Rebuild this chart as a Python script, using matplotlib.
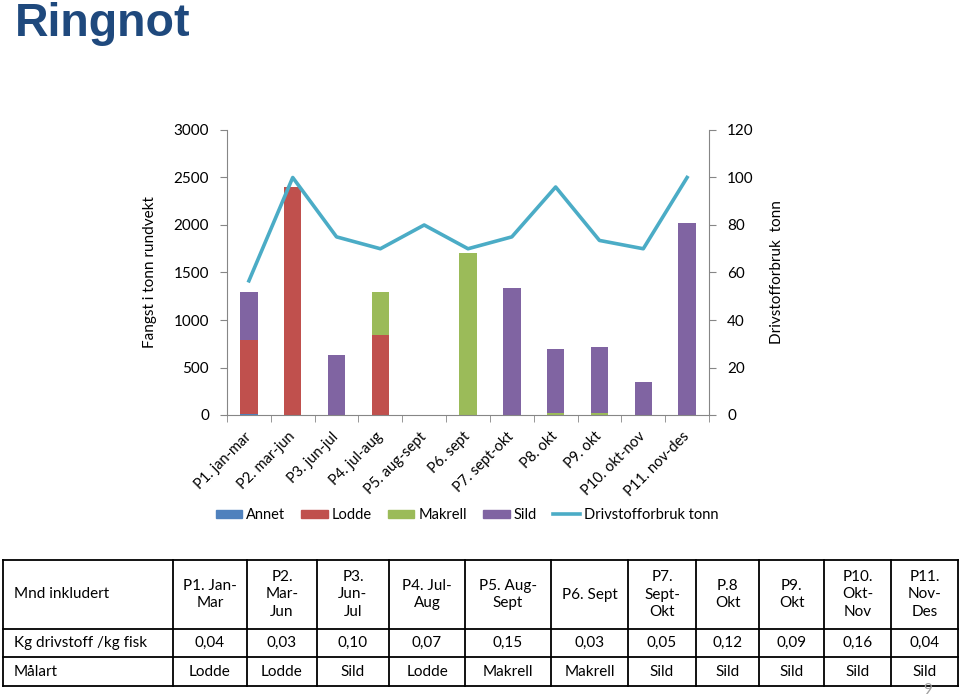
import numpy as np
import matplotlib
matplotlib.use("Agg")
import matplotlib.pyplot as plt
from matplotlib.patches import Patch
from matplotlib.lines import Line2D

plt.rcParams["font.family"] = ["Lato", "DejaVu Sans"]

# data
kategorier = ["P1. jan-mar", "P2. mar-jun", "P3. jun-jul", "P4. jul-aug", "P5. aug-sept",
              "P6. sept", "P7. sept-okt", "P8. okt", "P9. okt", "P10. okt-nov", "P11. nov-des"]
annet   = [8, 0, 0, 0, 0, 0, 0, 0, 0, 0, 0]
lodde   = [782, 2400, 0, 845, 0, 0, 0, 0, 0, 0, 0]
makrell = [0, 0, 0, 450, 0, 1705, 0, 22, 18, 0, 0]
sild    = [510, 0, 635, 0, 0, 0, 1335, 668, 700, 348, 2020]
drivstoff = [56.5, 100, 75, 70, 80, 70, 75, 96, 73.5, 70, 100]

tab_hode = ["Mnd inkludert", "P1. Jan-\nMar", "P2.\nMar-\nJun", "P3.\nJun-\nJul", "P4. Jul-\nAug",
            "P5. Aug-\nSept", "P6. Sept", "P7.\nSept-\nOkt", "P.8\nOkt", "P9.\nOkt",
            "P10.\nOkt-\nNov", "P11.\nNov-\nDes"]
kg_per_kg = ["Kg drivstoff /kg fisk", "0,04", "0,03", "0,10", "0,07", "0,15", "0,03",
             "0,05", "0,12", "0,09", "0,16", "0,04"]
malart = ["Målart", "Lodde", "Lodde", "Sild", "Lodde", "Makrell", "Makrell",
          "Sild", "Sild", "Sild", "Sild", "Sild"]

farger = {"Annet": "#4F81BD", "Lodde": "#C0504D", "Makrell": "#9BBB59", "Sild": "#8064A2"}
linjefarge = "#4BACC6"
grå = "#868686"

W, H = 960, 696
fig = plt.figure(figsize=(W / 100, H / 100), dpi=100)

# title
fig.text(15 / W, 1 - 36 / H, "Ringnot", fontsize=33.5, fontweight="bold",
         color="#1F497D", family="Liberation Sans", va="baseline", ha="left")

ax1 = fig.add_axes([227 / W, 1 - 415 / H, 482 / W, 285 / H])
x = np.arange(len(kategorier))
bunn = np.zeros(len(kategorier))
for navn, verdier in [("Annet", annet), ("Lodde", lodde), ("Makrell", makrell), ("Sild", sild)]:
    ax1.bar(x, verdier, width=0.4, bottom=bunn, color=farger[navn], label=navn, zorder=2)
    bunn += np.array(verdier)

ax1.set_xlim(-0.5, len(kategorier) - 0.5)
ax1.set_ylim(0, 3000)
ax1.set_yticks(np.arange(0, 3001, 500))
ax1.set_xticks(x)
ax1.set_xticklabels(kategorier, rotation=45, ha="right", va="center",
                    rotation_mode="anchor", fontsize=10.5)
ax1.set_xticks(np.arange(-0.5, len(kategorier)), minor=True)
ax1.tick_params(axis="x", which="major", length=0, pad=14)
ax1.tick_params(axis="x", which="minor", length=5, color=grå, direction="out")
ax1.tick_params(axis="y", length=5, color=grå, labelsize=11, pad=8)
ax1.set_ylabel("Fangst i tonn rundvekt", fontsize=11, labelpad=12)
for s in ["top", "right"]:
    ax1.spines[s].set_visible(False)
for s in ["left", "bottom"]:
    ax1.spines[s].set_color(grå)

ax2 = ax1.twinx()
ax2.plot(x, drivstoff, color=linjefarge, linewidth=2.6, zorder=3)
ax2.set_ylim(0, 120)
ax2.set_yticks(np.arange(0, 121, 20))
ax2.tick_params(axis="y", length=5, color=grå, labelsize=11, pad=8)
ax2.set_ylabel("Drivstofforbruk  tonn", fontsize=11, labelpad=12)
for s in ["top", "left", "bottom"]:
    ax2.spines[s].set_visible(False)
ax2.spines["right"].set_color(grå)

handles = [Patch(color=farger[n]) for n in ["Annet", "Lodde", "Makrell", "Sild"]]
handles.append(Line2D([0], [0], color=linjefarge, linewidth=2.6))
fig.legend(handles, ["Annet", "Lodde", "Makrell", "Sild", "Drivstofforbruk tonn"],
           loc="center", bbox_to_anchor=(467 / W, 1 - 515 / H), ncol=5, frameon=False,
           fontsize=10.5, handlelength=1.8, handleheight=0.45, handletextpad=0.3,
           columnspacing=1.1)

# table below the chart, drawn in pixel coordinates
tab = fig.add_axes([0, 0, 1, 1])
tab.set_xlim(0, W)
tab.set_ylim(H, 0)
tab.axis("off")
kol = [3, 173, 247, 317, 389, 465, 551, 628, 696, 759, 824, 891, 958]
rad = [560, 629, 657, 686]
for xk in kol:
    tab.plot([xk, xk], [rad[0], rad[-1]], color="black", linewidth=1.3)
for yr in rad:
    tab.plot([kol[0], kol[-1]], [yr, yr], color="black", linewidth=1.3)
for r, rad_tekst in enumerate([tab_hode, kg_per_kg, malart]):
    ym = (rad[r] + rad[r + 1]) / 2
    for c, t in enumerate(rad_tekst):
        if c == 0:
            tab.text(kol[0] + 11, ym, t, ha="left", va="center", fontsize=11)
        else:
            tab.text((kol[c] + kol[c + 1]) / 2, ym, t, ha="center", va="center",
                     fontsize=11, linespacing=1.3)

tab.text(928, 690, "9", ha="center", va="center", fontsize=11, color="#A0A0A0")

fig.savefig("out.png", dpi=100)
